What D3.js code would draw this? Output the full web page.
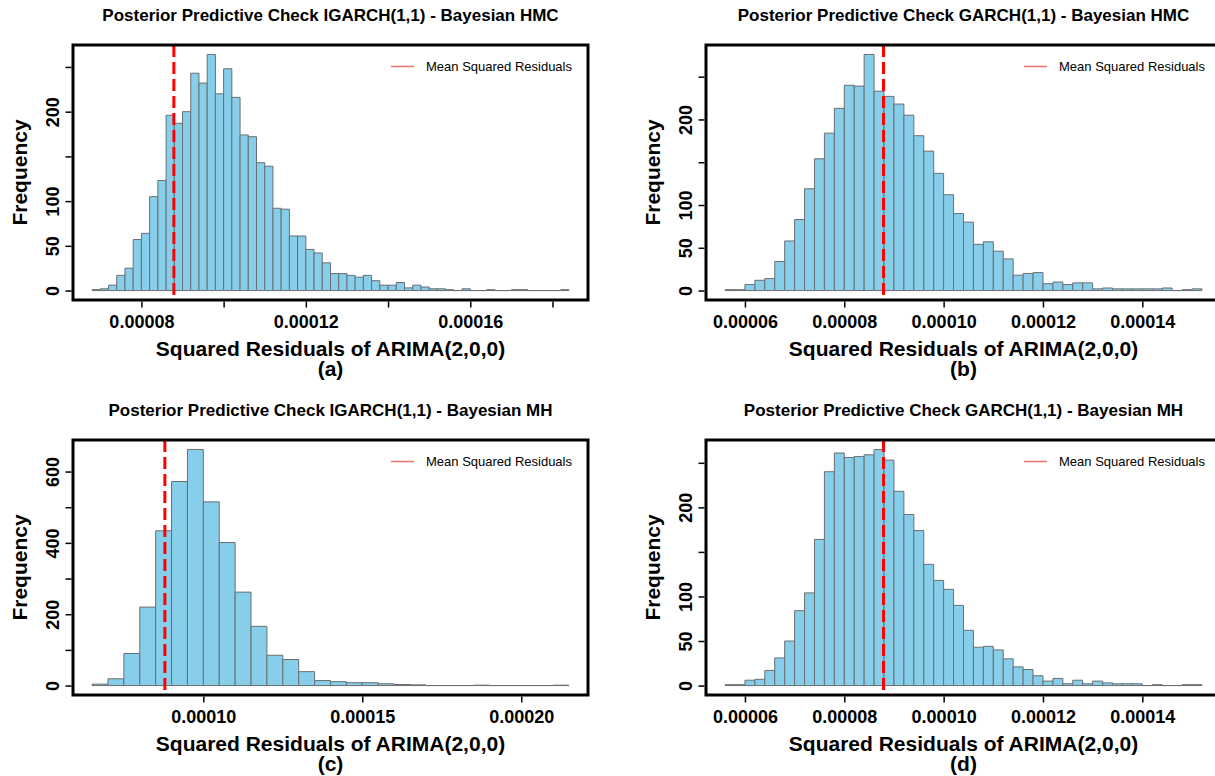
<!DOCTYPE html>
<html>
<head>
<meta charset="utf-8">
<script src="https://cdn.jsdelivr.net/npm/d3@7"></script>
<style>
  html, body { margin: 0; padding: 0; background: #ffffff; }
  svg { display: block; }
  text { font-family: "Liberation Sans", Arial, Helvetica, sans-serif; }
</style>
</head>
<body>
<svg id="chart" width="1215" height="776"></svg>
<script>
// ---------------- DATA ----------------
const panelTitles = [
  "Posterior Predictive Check IGARCH(1,1) - Bayesian HMC",
  "Posterior Predictive Check GARCH(1,1) - Bayesian HMC",
  "Posterior Predictive Check IGARCH(1,1) - Bayesian MH",
  "Posterior Predictive Check GARCH(1,1) - Bayesian MH"
];
const panelTags = ["(a)", "(b)", "(c)", "(d)"];
const xAxisTitle = "Squared Residuals of ARIMA(2,0,0)";
const yAxisTitle = "Frequency";
const legendLabel = "Mean Squared Residuals";
const meanSquaredResidual = 0.0000879;

// histogram bins: first break and bin width
const binStartA = 0.000068, binWidthA = 0.000002;
const binStartB = 0.000056, binWidthB = 0.000002;
const binStartC = 0.000065, binWidthC = 0.000005;
const binStartD = 0.000056, binWidthD = 0.000002;

// frequencies per bin
const countsA = [1,2,6,17,25,57,64,105,123,196,187,200,243,232,264,220,248,216,174,172,143,139,92,91,61,61,46,42,31,19,19,17,15,17,11,6,6,9,3,6,4,2,2,1,0,2,0,0,1,0,0,1,1,0,0,0,0,1];
const countsB = [1,1,7,12,14,34,58,83,119,154,184,213,240,239,276,233,227,218,205,181,163,137,112,90,80,54,57,46,37,18,20,21,8,10,7,9,9,2,3,2,2,2,2,2,3,0,1,2];
const countsC = [4,19,90,220,434,572,662,515,401,262,166,85,73,39,14,11,8,8,5,3,2,0,0,0,1,0,0,0,0,1];
const countsD = [1,1,6,7,17,31,50,84,104,164,240,261,256,257,259,265,253,218,192,174,136,118,108,90,62,43,44,40,30,21,18,11,5,8,2,6,2,5,3,2,2,2,0,1,0,0,1,1];

// axis ticks and labels ("" = tick without label)
const xTicksA = [0.00008, 0.00010, 0.00012, 0.00014, 0.00016, 0.00018];
const xTickLabelsA = ["0.00008", "", "0.00012", "", "0.00016", ""];
const xTicksB = [0.00006, 0.00008, 0.00010, 0.00012, 0.00014];
const xTickLabelsB = ["0.00006", "0.00008", "0.00010", "0.00012", "0.00014"];
const xTicksC = [0.00010, 0.00015, 0.00020];
const xTickLabelsC = ["0.00010", "0.00015", "0.00020"];
const xTicksD = [0.00006, 0.00008, 0.00010, 0.00012, 0.00014];
const xTickLabelsD = ["0.00006", "0.00008", "0.00010", "0.00012", "0.00014"];

const yTicksA = [0, 50, 100, 150, 200, 250];
const yTickLabelsA = ["0", "50", "100", "", "200", ""];
const yTicksB = [0, 50, 100, 150, 200, 250];
const yTickLabelsB = ["0", "50", "100", "", "200", ""];
const yTicksC = [0, 100, 200, 300, 400, 500, 600];
const yTickLabelsC = ["0", "", "200", "", "400", "", "600"];
const yTicksD = [0, 50, 100, 150, 200, 250];
const yTickLabelsD = ["0", "50", "100", "", "200", ""];

// ---------------- LAYOUT / STYLE ----------------
const FONT = '"Liberation Sans", Arial, Helvetica, sans-serif';
const barFill = "#87CEEB";
const barStroke = "#6a6f72";

const layouts = [
  { left: 73,  right: 588,  top: 45,  bottom: 300 },
  { left: 706, right: 1221, top: 45,  bottom: 300 },
  { left: 73,  right: 588,  top: 440, bottom: 695 },
  { left: 706, right: 1221, top: 440, bottom: 695 }
];

const panels = [
  { counts: countsA, start: binStartA, width: binWidthA, xt: xTicksA, xl: xTickLabelsA, yt: yTicksA, yl: yTickLabelsA },
  { counts: countsB, start: binStartB, width: binWidthB, xt: xTicksB, xl: xTickLabelsB, yt: yTicksB, yl: yTickLabelsB },
  { counts: countsC, start: binStartC, width: binWidthC, xt: xTicksC, xl: xTickLabelsC, yt: yTicksC, yl: yTickLabelsC },
  { counts: countsD, start: binStartD, width: binWidthD, xt: xTicksD, xl: xTickLabelsD, yt: yTicksD, yl: yTickLabelsD }
];

const svg = d3.select("#chart");
svg.append("rect").attr("width", 1215).attr("height", 776).attr("fill", "#fff");

panels.forEach((p, i) => {
  const L = layouts[i];
  const bins = p.counts.map((c, k) => ({ x0: p.start + k * p.width, x1: p.start + (k + 1) * p.width, n: c }));
  const xmin = bins[0].x0, xmax = bins[bins.length - 1].x1;
  const xpad = (xmax - xmin) * 0.04;
  const ymax = d3.max(p.counts);
  const ypad = ymax * 0.04;

  const x = d3.scaleLinear().domain([xmin - xpad, xmax + xpad]).range([L.left, L.right]);
  const y = d3.scaleLinear().domain([-ypad, ymax + ypad]).range([L.bottom, L.top]);

  const g = svg.append("g");
  const cx = (L.left + L.right) / 2;
  const cy = (L.top + L.bottom) / 2;

  // title
  g.append("text")
    .attr("x", cx).attr("y", L.top - 30)
    .attr("text-anchor", "middle").attr("dominant-baseline", "central")
    .style("font-size", "17px").style("font-weight", "bold")
    .text(panelTitles[i]);

  // bars (paths so that zero-count bins still draw a baseline)
  g.append("g").selectAll("path").data(bins).join("path")
    .attr("d", b => `M${x(b.x0)},${y(0)}V${y(b.n)}H${x(b.x1)}V${y(0)}Z`)
    .attr("fill", barFill)
    .attr("stroke", barStroke)
    .attr("stroke-width", 1);

  // mean line
  g.append("line")
    .attr("x1", x(meanSquaredResidual)).attr("x2", x(meanSquaredResidual))
    .attr("y1", L.top).attr("y2", L.bottom)
    .attr("stroke", "#ff0000").attr("stroke-width", 3)
    .attr("stroke-dasharray", "12,5");

  // box
  g.append("rect")
    .attr("x", L.left).attr("y", L.top)
    .attr("width", L.right - L.left).attr("height", L.bottom - L.top)
    .attr("fill", "none").attr("stroke", "#000").attr("stroke-width", 3);

  // x axis
  const xAxis = d3.axisBottom(x).tickValues(p.xt).tickSize(6).tickSizeOuter(0)
    .tickFormat((d, k) => p.xl[k]);
  const xg = g.append("g").attr("transform", `translate(0,${L.bottom + 1.5})`).call(xAxis);
  xg.select(".domain").remove();
  xg.selectAll(".tick line").attr("stroke", "#000").attr("stroke-width", 1.5);
  xg.selectAll(".tick text")
    .attr("y", 20).attr("dy", "0.35em")
    .style("font-family", FONT).style("font-size", "18px").style("font-weight", "bold").attr("fill", "#000");

  // y axis
  const yAxis = d3.axisLeft(y).tickValues(p.yt).tickSize(6).tickSizeOuter(0)
    .tickFormat((d, k) => p.yl[k]);
  const yg = g.append("g").attr("transform", `translate(${L.left - 1.5},0)`).call(yAxis);
  yg.select(".domain").remove();
  yg.selectAll(".tick line").attr("stroke", "#000").attr("stroke-width", 1.5);
  yg.selectAll(".tick text")
    .attr("x", 0).attr("dy", 0)
    .attr("text-anchor", "middle").attr("dominant-baseline", "central")
    .attr("transform", "translate(-19,0) rotate(-90)")
    .style("font-family", FONT).style("font-size", "18px").style("font-weight", "bold").attr("fill", "#000");

  // axis titles
  g.append("text")
    .attr("x", cx).attr("y", L.bottom + 48)
    .attr("text-anchor", "middle").attr("dominant-baseline", "central")
    .style("font-size", "21px").style("font-weight", "bold")
    .text(xAxisTitle);
  g.append("text")
    .attr("x", cx).attr("y", L.bottom + 68)
    .attr("text-anchor", "middle").attr("dominant-baseline", "central")
    .style("font-size", "21px").style("font-weight", "bold")
    .text(panelTags[i]);
  g.append("text")
    .attr("transform", `translate(${L.left - 54},${cy}) rotate(-90)`)
    .attr("text-anchor", "middle").attr("dominant-baseline", "central")
    .style("font-size", "21px").style("font-weight", "bold")
    .text(yAxisTitle);

  // legend
  const ly = L.top + 21.5;
  g.append("line")
    .attr("x1", L.right - 197).attr("x2", L.right - 174)
    .attr("y1", ly).attr("y2", ly)
    .attr("stroke", "#f07878").attr("stroke-width", 1.6);
  g.append("text")
    .attr("x", L.right - 162).attr("y", ly)
    .attr("dominant-baseline", "central")
    .style("font-size", "13px")
    .text(legendLabel);
});
</script>
</body>
</html>
